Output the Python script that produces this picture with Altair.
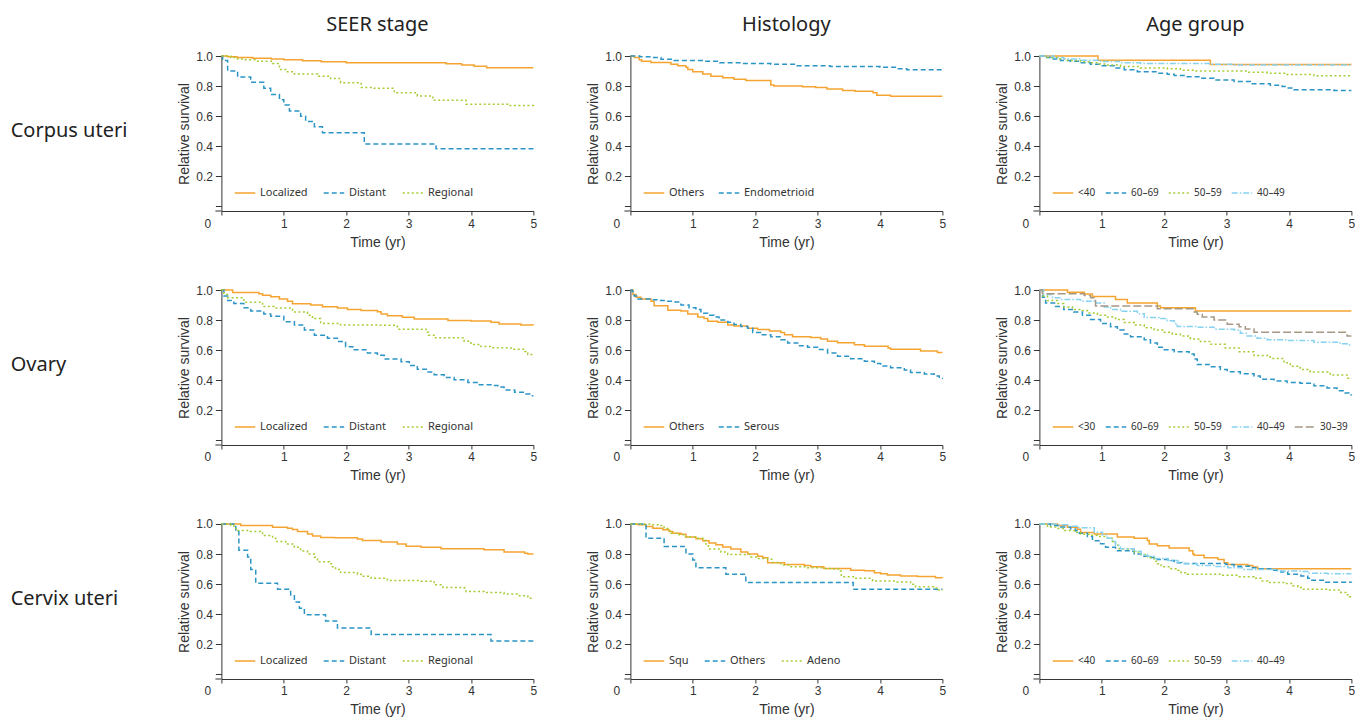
import altair as alt
import pandas as pd

# ---------------- labels ----------------
ROW_LABELS = ["Corpus uteri", "Ovary", "Cervix uteri"]
COL_TITLES = ["SEER stage", "Histology", "Age group"]
X_TICKS = [0, 1, 2, 3, 4, 5]
Y_TICKS = [0, 0.2, 0.4, 0.6, 0.8, 1.0]

# ---------------- Corpus uteri ----------------
CU_STAGE_NAMES = ["Localized", "Distant", "Regional"]
CU_LOC_T = [0, 0.1, 0.25, 0.5, 0.8, 1.0, 1.3, 1.6, 2.0, 3.6, 3.85, 4.05, 4.25, 5.0]
CU_LOC_S = [1.0, 0.995, 0.99, 0.985, 0.98, 0.975, 0.968, 0.962, 0.955, 0.948, 0.94, 0.932, 0.922, 0.922]
CU_DIST_T = [0, 0.02, 0.1, 0.26, 0.47, 0.68, 0.79, 0.93, 1.0, 1.09, 1.27, 1.35, 1.49, 1.62, 2.29, 3.44, 5.0]
CU_DIST_S = [1.0, 0.97, 0.9, 0.86, 0.825, 0.785, 0.745, 0.71, 0.675, 0.635, 0.6, 0.565, 0.53, 0.49, 0.415, 0.383, 0.383]
CU_REG_T = [0, 0.15, 0.26, 0.36, 0.58, 0.82, 0.93, 1.03, 1.17, 1.54, 1.75, 1.91, 2.24, 2.45, 2.77, 3.14, 3.39, 3.92, 4.59, 5.0]
CU_REG_S = [1.0, 0.99, 0.98, 0.975, 0.965, 0.95, 0.91, 0.895, 0.88, 0.865, 0.85, 0.823, 0.79, 0.785, 0.756, 0.735, 0.706, 0.68, 0.671, 0.666]

CU_HIST_NAMES = ["Others", "Endometrioid"]
CU_OTH_T = [0, 0.06, 0.14, 0.18, 0.33, 0.65, 0.76, 0.89, 0.92, 1.0, 1.16, 1.29, 1.48, 1.66, 1.85, 2.25, 2.3, 2.76, 2.97, 3.15, 3.4, 3.6, 3.89, 3.95, 4.17, 5.0]
CU_OTH_S = [1.0, 0.99, 0.975, 0.965, 0.957, 0.945, 0.935, 0.925, 0.91, 0.895, 0.88, 0.865, 0.855, 0.845, 0.837, 0.808, 0.8, 0.795, 0.79, 0.78, 0.77, 0.765, 0.756, 0.74, 0.732, 0.732]
CU_ENDO_T = [0, 0.15, 0.33, 0.49, 0.7, 1.19, 1.43, 1.8, 2.25, 2.67, 3.2, 4.0, 4.27, 4.43, 5.0]
CU_ENDO_S = [1.0, 0.995, 0.99, 0.978, 0.97, 0.965, 0.955, 0.95, 0.945, 0.935, 0.93, 0.925, 0.915, 0.909, 0.908]

CU_AGE_NAMES = ["<40", "60–69", "50–59", "40–49"]
CU_U40_T = [0, 0.94, 2.74, 5.0]
CU_U40_S = [1.0, 0.972, 0.943, 0.943]
CU_A6069_T = [0, 0.1, 0.18, 0.34, 0.5, 0.66, 0.82, 0.98, 1.2, 1.36, 1.57, 1.89, 2.05, 2.16, 2.37, 2.58, 2.8, 3.12, 3.38, 3.7, 3.89, 3.97, 4.08, 4.72, 5.0]
CU_A6069_S = [1.0, 0.99, 0.98, 0.97, 0.965, 0.955, 0.945, 0.935, 0.92, 0.908, 0.896, 0.886, 0.878, 0.87, 0.862, 0.852, 0.84, 0.83, 0.815, 0.806, 0.797, 0.788, 0.776, 0.77, 0.77]
CU_A5059_T = [0, 0.13, 0.29, 0.45, 0.66, 0.82, 0.96, 1.09, 1.3, 1.62, 2.05, 2.26, 2.48, 3.33, 3.65, 3.97, 4.4, 5.0]
CU_A5059_S = [1.0, 0.99, 0.98, 0.97, 0.962, 0.955, 0.947, 0.94, 0.93, 0.921, 0.915, 0.906, 0.9, 0.892, 0.886, 0.877, 0.868, 0.868]
CU_A4049_T = [0, 0.23, 0.39, 0.66, 0.98, 1.3, 1.62, 2.74, 3.12, 5.0]
CU_A4049_S = [1.0, 0.99, 0.98, 0.972, 0.963, 0.955, 0.95, 0.945, 0.94, 0.94]

# ---------------- Ovary ----------------
OV_STAGE_NAMES = ["Localized", "Distant", "Regional"]
OV_LOC_T = [0, 0.18, 0.6, 0.66, 0.79, 0.93, 1.06, 1.14, 1.43, 1.62, 1.86, 2.02, 2.24, 2.5, 2.56, 2.66, 2.9, 3.09, 3.63, 4.0, 4.32, 4.45, 4.8, 5.0]
OV_LOC_S = [1.0, 0.984, 0.975, 0.965, 0.955, 0.94, 0.925, 0.908, 0.9, 0.889, 0.88, 0.87, 0.864, 0.855, 0.84, 0.829, 0.819, 0.807, 0.798, 0.794, 0.785, 0.774, 0.768, 0.767]
OV_DIST_T = [0, 0.04, 0.1, 0.2, 0.36, 0.47, 0.68, 0.79, 1.0, 1.17, 1.33, 1.49, 1.7, 1.86, 1.99, 2.13, 2.34, 2.5, 2.61, 2.88, 3.01, 3.14, 3.3, 3.41, 3.57, 3.73, 3.95, 4.11, 4.32, 4.43, 4.53, 4.7, 4.86, 4.96, 5.0]
OV_DIST_S = [1.0, 0.96, 0.93, 0.91, 0.882, 0.86, 0.84, 0.826, 0.789, 0.767, 0.734, 0.699, 0.68, 0.658, 0.623, 0.603, 0.581, 0.566, 0.542, 0.523, 0.499, 0.473, 0.455, 0.436, 0.418, 0.403, 0.385, 0.37, 0.365, 0.355, 0.336, 0.32, 0.309, 0.298, 0.298]
OV_REG_T = [0, 0.04, 0.1, 0.36, 0.66, 0.84, 1.14, 1.38, 1.46, 1.59, 1.91, 2.5, 2.82, 3.28, 3.32, 3.41, 3.89, 4.0, 4.16, 4.32, 4.64, 4.86, 4.91, 5.0]
OV_REG_S = [1.0, 0.97, 0.948, 0.919, 0.89, 0.88, 0.854, 0.832, 0.81, 0.778, 0.767, 0.765, 0.74, 0.72, 0.7, 0.683, 0.66, 0.638, 0.625, 0.617, 0.607, 0.592, 0.571, 0.571]

OV_HIST_NAMES = ["Others", "Serous"]
OV_OTH_T = [0, 0.04, 0.09, 0.17, 0.33, 0.38, 0.6, 0.81, 0.92, 1.08, 1.18, 1.24, 1.4, 1.56, 1.66, 1.88, 2.04, 2.23, 2.41, 2.47, 2.6, 2.89, 3.05, 3.16, 3.32, 3.59, 3.75, 4.13, 4.17, 4.65, 4.92, 5.0]
OV_OTH_S = [1.0, 0.97, 0.952, 0.94, 0.926, 0.895, 0.866, 0.86, 0.84, 0.821, 0.81, 0.792, 0.785, 0.767, 0.76, 0.746, 0.738, 0.727, 0.717, 0.703, 0.69, 0.685, 0.675, 0.66, 0.65, 0.637, 0.626, 0.615, 0.606, 0.594, 0.584, 0.584]
OV_SER_T = [0, 0.03, 0.06, 0.12, 0.33, 0.46, 0.6, 0.7, 0.81, 0.94, 1.05, 1.13, 1.24, 1.34, 1.42, 1.56, 1.66, 1.77, 1.88, 1.96, 2.09, 2.25, 2.41, 2.52, 2.68, 2.84, 3.0, 3.16, 3.32, 3.53, 3.75, 3.91, 4.01, 4.17, 4.39, 4.49, 4.71, 4.87, 4.95, 5.0]
OV_SER_S = [1.0, 0.99, 0.96, 0.941, 0.935, 0.93, 0.925, 0.92, 0.9, 0.882, 0.87, 0.845, 0.832, 0.821, 0.8, 0.785, 0.771, 0.757, 0.745, 0.718, 0.702, 0.69, 0.67, 0.648, 0.63, 0.62, 0.604, 0.582, 0.56, 0.543, 0.527, 0.511, 0.495, 0.483, 0.468, 0.452, 0.442, 0.429, 0.412, 0.411]

OV_AGE_NAMES = ["<30", "60–69", "50–59", "40–49", "30–39"]
OV_U30_T = [0, 0.45, 0.72, 0.85, 1.22, 1.41, 1.89, 1.94, 2.5, 5.0]
OV_U30_S = [1.0, 0.985, 0.974, 0.956, 0.937, 0.913, 0.893, 0.882, 0.86, 0.86]
OV_A6069_T = [0, 0.05, 0.1, 0.26, 0.39, 0.55, 0.69, 0.82, 0.98, 1.14, 1.25, 1.36, 1.46, 1.68, 1.78, 1.89, 2.0, 2.16, 2.4, 2.48, 2.53, 2.74, 2.9, 3.01, 3.22, 3.44, 3.54, 3.76, 3.97, 4.18, 4.4, 4.61, 4.77, 4.88, 4.96, 5.0]
OV_A6069_S = [1.0, 0.952, 0.913, 0.891, 0.871, 0.854, 0.832, 0.804, 0.778, 0.756, 0.734, 0.708, 0.69, 0.669, 0.647, 0.619, 0.603, 0.59, 0.575, 0.542, 0.505, 0.49, 0.472, 0.457, 0.444, 0.429, 0.407, 0.396, 0.385, 0.38, 0.363, 0.348, 0.331, 0.316, 0.302, 0.3]
OV_A5059_T = [0, 0.05, 0.13, 0.29, 0.39, 0.53, 0.66, 0.77, 0.93, 1.09, 1.22, 1.36, 1.52, 1.68, 1.84, 2.0, 2.13, 2.26, 2.42, 2.58, 2.75, 2.98, 3.2, 3.44, 3.7, 3.92, 4.02, 4.18, 4.34, 4.66, 4.93, 5.0]
OV_A5059_S = [1.0, 0.96, 0.93, 0.91, 0.887, 0.871, 0.863, 0.847, 0.832, 0.82, 0.804, 0.784, 0.767, 0.749, 0.734, 0.719, 0.706, 0.695, 0.675, 0.658, 0.64, 0.614, 0.59, 0.564, 0.544, 0.516, 0.494, 0.472, 0.455, 0.435, 0.414, 0.41]
OV_A4049_T = [0, 0.07, 0.21, 0.34, 0.66, 0.88, 1.04, 1.14, 1.3, 1.57, 1.68, 1.94, 2.05, 2.16, 2.21, 2.53, 2.8, 3.12, 3.22, 3.33, 3.49, 3.65, 3.97, 4.4, 4.82, 4.93, 5.0]
OV_A4049_S = [1.0, 0.97, 0.948, 0.937, 0.926, 0.913, 0.887, 0.871, 0.858, 0.843, 0.818, 0.81, 0.795, 0.778, 0.757, 0.752, 0.74, 0.735, 0.712, 0.695, 0.68, 0.669, 0.664, 0.653, 0.642, 0.634, 0.634]
OV_A3039_T = [0, 0.05, 0.72, 0.82, 0.9, 1.89, 2.48, 2.53, 2.61, 2.8, 3.01, 3.2, 3.3, 3.44, 4.93, 5.0]
OV_A3039_S = [1.0, 0.975, 0.963, 0.948, 0.893, 0.876, 0.854, 0.839, 0.821, 0.8, 0.773, 0.756, 0.741, 0.719, 0.695, 0.695]

# ---------------- Cervix uteri ----------------
CX_STAGE_NAMES = ["Localized", "Distant", "Regional"]
CX_LOC_T = [0, 0.31, 0.82, 1.06, 1.14, 1.22, 1.38, 1.46, 1.59, 1.81, 2.18, 2.26, 2.56, 2.82, 2.96, 3.2, 3.52, 4.21, 4.53, 4.86, 4.91, 5.0]
CX_LOC_S = [1.0, 0.99, 0.978, 0.972, 0.963, 0.95, 0.934, 0.921, 0.911, 0.908, 0.9, 0.891, 0.88, 0.867, 0.852, 0.845, 0.836, 0.829, 0.814, 0.806, 0.8, 0.8]
CX_DIST_T = [0, 0.23, 0.28, 0.42, 0.47, 0.55, 0.9, 1.11, 1.17, 1.25, 1.33, 1.67, 1.86, 2.4, 4.32, 5.0]
CX_DIST_S = [1.0, 0.95, 0.826, 0.781, 0.698, 0.607, 0.567, 0.523, 0.482, 0.44, 0.397, 0.355, 0.309, 0.266, 0.222, 0.222]
CX_REG_T = [0, 0.15, 0.2, 0.26, 0.42, 0.63, 0.66, 0.82, 0.87, 1.03, 1.17, 1.27, 1.38, 1.49, 1.54, 1.73, 1.78, 1.83, 1.91, 2.18, 2.24, 2.4, 2.66, 3.2, 3.41, 3.55, 3.89, 3.92, 4.21, 4.53, 4.75, 4.91, 5.0]
CX_REG_S = [1.0, 0.99, 0.97, 0.956, 0.95, 0.94, 0.923, 0.906, 0.884, 0.867, 0.845, 0.82, 0.801, 0.779, 0.749, 0.736, 0.716, 0.698, 0.677, 0.666, 0.652, 0.639, 0.624, 0.62, 0.596, 0.578, 0.575, 0.552, 0.545, 0.534, 0.523, 0.506, 0.505]

CX_HIST_NAMES = ["Squ", "Others", "Adeno"]
CX_SQU_T = [0, 0.12, 0.25, 0.36, 0.52, 0.62, 0.68, 0.81, 0.89, 1.05, 1.16, 1.26, 1.37, 1.48, 1.61, 1.77, 1.88, 2.04, 2.12, 2.2, 2.47, 2.79, 2.89, 3.1, 3.53, 3.75, 3.91, 4.01, 4.12, 4.33, 4.6, 4.89, 5.0]
CX_SQU_S = [1.0, 0.995, 0.983, 0.972, 0.961, 0.95, 0.939, 0.932, 0.913, 0.902, 0.888, 0.873, 0.862, 0.847, 0.834, 0.814, 0.801, 0.786, 0.775, 0.742, 0.731, 0.725, 0.716, 0.705, 0.692, 0.689, 0.676, 0.67, 0.661, 0.655, 0.651, 0.643, 0.642]
CX_OTH_T = [0, 0.25, 0.54, 0.89, 1.0, 1.05, 1.53, 1.85, 3.57, 5.0]
CX_OTH_S = [1.0, 0.906, 0.851, 0.801, 0.76, 0.709, 0.666, 0.611, 0.567, 0.567]
CX_ADE_T = [0, 0.36, 0.46, 0.54, 0.6, 0.65, 0.78, 0.86, 1.05, 1.16, 1.21, 1.25, 1.45, 1.56, 1.93, 2.04, 2.2, 2.28, 2.41, 2.55, 2.84, 3.1, 3.26, 3.34, 3.38, 3.59, 3.88, 4.25, 4.49, 4.57, 4.87, 4.92, 5.0]
CX_ADE_S = [1.0, 0.995, 0.99, 0.97, 0.955, 0.939, 0.928, 0.913, 0.905, 0.891, 0.867, 0.834, 0.814, 0.797, 0.781, 0.77, 0.765, 0.744, 0.727, 0.716, 0.709, 0.705, 0.701, 0.687, 0.65, 0.639, 0.622, 0.615, 0.6, 0.583, 0.574, 0.561, 0.56]

CX_AGE_NAMES = ["<40", "60–69", "50–59", "40–49"]
CX_U40_T = [0, 0.29, 0.45, 0.61, 0.66, 0.88, 1.25, 1.52, 1.73, 1.76, 1.89, 2.08, 2.4, 2.46, 2.48, 2.64, 2.86, 2.96, 3.02, 3.34, 3.42, 3.5, 5.0]
CX_U40_S = [1.0, 0.99, 0.978, 0.965, 0.943, 0.934, 0.913, 0.906, 0.89, 0.867, 0.856, 0.84, 0.823, 0.801, 0.792, 0.775, 0.764, 0.742, 0.731, 0.725, 0.714, 0.703, 0.703]
CX_A6069_T = [0, 0.18, 0.34, 0.5, 0.58, 0.64, 0.77, 0.85, 0.98, 1.06, 1.22, 1.47, 1.52, 1.63, 1.79, 1.89, 2.11, 2.16, 2.27, 2.99, 3.12, 3.39, 3.5, 3.71, 3.87, 3.98, 4.19, 4.3, 4.35, 4.57, 5.0]
CX_A6069_S = [1.0, 0.99, 0.98, 0.967, 0.955, 0.939, 0.917, 0.889, 0.869, 0.845, 0.823, 0.819, 0.801, 0.786, 0.778, 0.764, 0.757, 0.742, 0.738, 0.731, 0.72, 0.709, 0.703, 0.692, 0.681, 0.666, 0.655, 0.639, 0.626, 0.613, 0.612]
CX_A5059_T = [0, 0.13, 0.26, 0.4, 0.56, 0.66, 0.82, 0.93, 1.09, 1.17, 1.22, 1.28, 1.52, 1.63, 1.73, 1.84, 1.89, 1.95, 2.11, 2.22, 2.27, 2.37, 2.91, 3.18, 3.44, 3.55, 3.66, 3.93, 4.06, 4.14, 4.22, 4.62, 4.83, 4.91, 4.97, 5.0]
CX_A5059_S = [1.0, 0.98, 0.97, 0.956, 0.945, 0.932, 0.925, 0.917, 0.906, 0.884, 0.858, 0.834, 0.814, 0.797, 0.775, 0.753, 0.736, 0.716, 0.703, 0.692, 0.676, 0.666, 0.659, 0.65, 0.639, 0.622, 0.611, 0.604, 0.589, 0.578, 0.567, 0.561, 0.545, 0.53, 0.517, 0.517]
CX_A4049_T = [0, 0.29, 0.45, 0.61, 0.88, 1.01, 1.09, 1.17, 1.22, 1.3, 1.52, 1.63, 1.73, 1.84, 2.06, 2.22, 2.32, 2.53, 2.8, 3.02, 3.28, 3.82, 4.19, 4.3, 4.62, 5.0]
CX_A4049_S = [1.0, 0.995, 0.985, 0.975, 0.945, 0.928, 0.906, 0.884, 0.858, 0.836, 0.819, 0.797, 0.786, 0.77, 0.757, 0.746, 0.736, 0.725, 0.718, 0.709, 0.698, 0.687, 0.685, 0.672, 0.67, 0.67]

# ---------------- styles ----------------
ORANGE, BLUE, GREEN, LBLUE, TAN = "#F5A431", "#2B95C6", "#A6CC35", "#86D2F0", "#A69884"
SOLID, DASH, DOT, DASHDOT, LONG = [1, 0], [5, 3], [2, 2.5], [6, 2, 1.5, 2], [8, 3]
STAGE_STYLE = [(ORANGE, SOLID), (BLUE, DASH), (GREEN, DOT)]
HIST2_STYLE = [(ORANGE, SOLID), (BLUE, DASH)]
AGE_STYLE = [(ORANGE, SOLID), (BLUE, DASH), (GREEN, DOT), (LBLUE, DASHDOT), (TAN, LONG)]

PW, PH = 312, 155
YMIN = -0.03
TXT = "#333333"

# (names, curves, style, legend column gap, legend font size)
PANELS = [
    [
        (CU_STAGE_NAMES, [(CU_LOC_T, CU_LOC_S), (CU_DIST_T, CU_DIST_S), (CU_REG_T, CU_REG_S)], STAGE_STYLE, 12, 11),
        (CU_HIST_NAMES, [(CU_OTH_T, CU_OTH_S), (CU_ENDO_T, CU_ENDO_S)], HIST2_STYLE, 10, 11),
        (CU_AGE_NAMES, [(CU_U40_T, CU_U40_S), (CU_A6069_T, CU_A6069_S), (CU_A5059_T, CU_A5059_S), (CU_A4049_T, CU_A4049_S)], AGE_STYLE, 6, 10),
    ],
    [
        (OV_STAGE_NAMES, [(OV_LOC_T, OV_LOC_S), (OV_DIST_T, OV_DIST_S), (OV_REG_T, OV_REG_S)], STAGE_STYLE, 12, 11),
        (OV_HIST_NAMES, [(OV_OTH_T, OV_OTH_S), (OV_SER_T, OV_SER_S)], HIST2_STYLE, 10, 11),
        (OV_AGE_NAMES, [(OV_U30_T, OV_U30_S), (OV_A6069_T, OV_A6069_S), (OV_A5059_T, OV_A5059_S), (OV_A4049_T, OV_A4049_S), (OV_A3039_T, OV_A3039_S)], AGE_STYLE, 6, 10),
    ],
    [
        (CX_STAGE_NAMES, [(CX_LOC_T, CX_LOC_S), (CX_DIST_T, CX_DIST_S), (CX_REG_T, CX_REG_S)], STAGE_STYLE, 12, 11),
        (CX_HIST_NAMES, [(CX_SQU_T, CX_SQU_S), (CX_OTH_T, CX_OTH_S), (CX_ADE_T, CX_ADE_S)], STAGE_STYLE, 12, 11),
        (CX_AGE_NAMES, [(CX_U40_T, CX_U40_S), (CX_A6069_T, CX_A6069_S), (CX_A5059_T, CX_A5059_S), (CX_A4049_T, CX_A4049_S)], AGE_STYLE, 6, 10),
    ],
]


def make_panel(names, curves, style, gap, lfs, row_label=None, col_title=None):
    recs = []
    for name, (ts, ss) in zip(names, curves):
        for t, s in zip(ts, ss):
            recs.append({"g": name, "t": t, "s": s})
    df = pd.DataFrame(recs)
    colors = [c for c, _ in style[: len(names)]]
    dashes = [d for _, d in style[: len(names)]]
    leg = alt.Legend(
        title=None, orient="none", legendX=12.6, legendY=126, direction="horizontal",
        columns=len(names), symbolType="stroke", symbolSize=420, symbolStrokeWidth=1.5,
        labelFont="Noto Sans", labelFontSize=lfs, labelColor=TXT, labelOffset=4,
        columnPadding=gap, padding=0, rowPadding=0,
    )
    lines = alt.Chart(df).mark_line(interpolate="step-after", strokeWidth=1.5).encode(
        x=alt.X("t:Q", scale=alt.Scale(domain=[0, 5], nice=False, zero=False),
                axis=alt.Axis(values=X_TICKS, format="d", title="Time (yr)", tickSize=4,
                              labelPadding=3, titlePadding=6, labelFlush=False,
                              labelOffset={"condition": {"test": "datum.value === 0", "value": -14}, "value": 0})),
        y=alt.Y("s:Q", scale=alt.Scale(domain=[YMIN, 1.0], nice=False, zero=False),
                axis=alt.Axis(values=Y_TICKS, title="Relative survival", tickSize=6, labelPadding=3,
                              titlePadding=4,
                              labelExpr="datum.value == 0 ? '' : format(datum.value, '.1f')")),
        color=alt.Color("g:N", scale=alt.Scale(domain=names, range=colors), legend=leg),
        strokeDash=alt.StrokeDash("g:N", scale=alt.Scale(domain=names, range=dashes), legend=leg),
    )
    # short extension of the x-axis line to the left of the y-axis
    ext = alt.Chart(pd.DataFrame({"k": [0]})).mark_rule(color=TXT, strokeWidth=1).encode(
        x=alt.value(-6), x2=alt.value(0), y=alt.value(PH)
    )
    layers = [lines, ext]
    if row_label is not None:
        txt = alt.Chart(pd.DataFrame({"label": [row_label]})).mark_text(
            align="left", baseline="middle", font="Noto Sans", fontSize=20, color="#222222"
        ).encode(x=alt.value(-210.7), y=alt.value(PH * (1.0 - 0.5) / (1.0 - YMIN)), text="label:N")
        layers.append(txt)
    ch = alt.layer(*layers).properties(width=PW, height=PH)
    if col_title is not None:
        ch = ch.properties(title=alt.TitleParams(col_title, anchor="middle", frame="group", offset=15,
                                                 font="Noto Sans", fontSize=20, fontWeight="normal",
                                                 color="#222222"))
    return ch


rows = []
for r, row in enumerate(PANELS):
    cells = []
    for c, (names, curves, style, gap, lfs) in enumerate(row):
        cells.append(make_panel(names, curves, style, gap, lfs,
                                row_label=ROW_LABELS[r] if c == 0 else None,
                                col_title=COL_TITLES[c] if r == 0 else None))
    rows.append(alt.hconcat(*cells, spacing=49).resolve_scale(color="independent", strokeDash="independent"))

chart = (
    alt.vconcat(*rows, spacing=35)
    .resolve_scale(color="independent", strokeDash="independent")
    .properties(padding={"left": 2.4, "top": 7, "right": 0, "bottom": 0})
    .configure_view(stroke=None)
    .configure_axis(domainColor=TXT, tickColor=TXT, labelColor=TXT, titleColor=TXT, grid=False,
                    labelFont="Liberation Sans", titleFont="Liberation Sans", labelFontSize=12,
                    titleFontSize=14, titleFontWeight="normal", domainWidth=1, tickWidth=1)
)

chart.save("out.html", embed_options={"renderer": "svg", "actions": False})
